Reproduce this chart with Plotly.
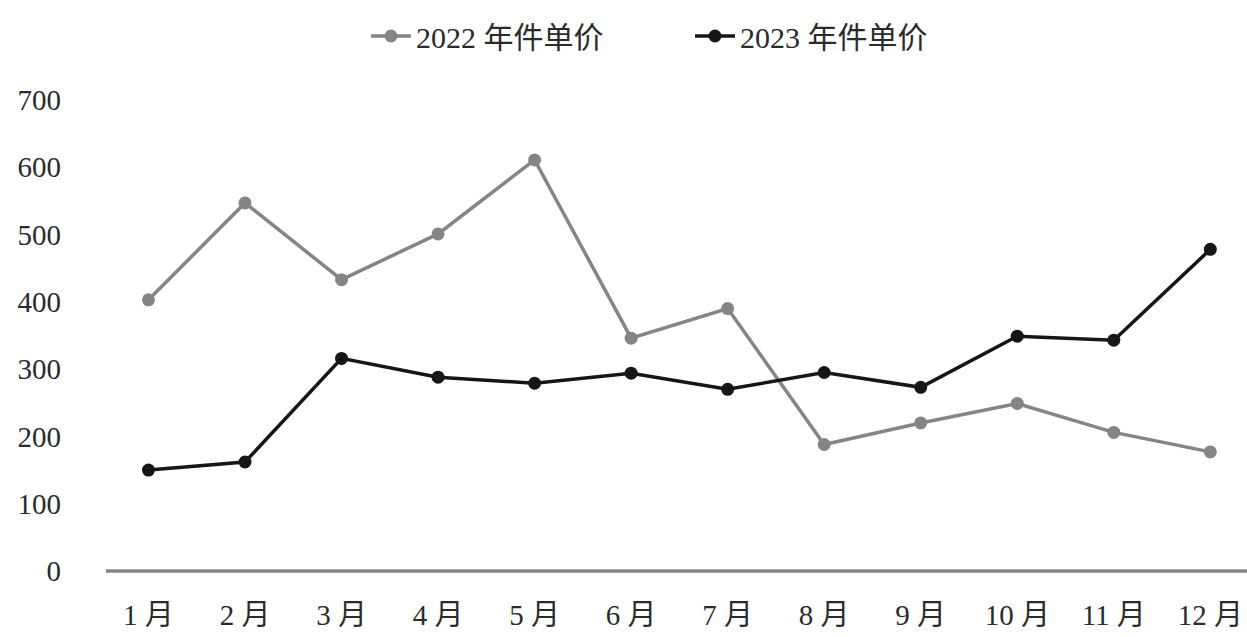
import plotly.graph_objects as go

months = ["1月", "2月", "3月", "4月", "5月", "6月", "7月", "8月", "9月", "10月", "11月", "12月"]
month_labels = ["1 月", "2 月", "3 月", "4 月", "5 月", "6 月", "7 月", "8 月", "9 月", "10 月", "11 月", "12 月"]
price_2022 = [403, 547, 433, 501, 611, 346, 390, 188, 220, 249, 206, 177]
price_2023 = [150, 162, 316, 288, 279, 294, 270, 295, 273, 349, 343, 478]
y_ticks = [0, 100, 200, 300, 400, 500, 600, 700]

FONT = "Liberation Serif, Times New Roman, Noto Sans CJK SC, serif"
TXT = "#2b2b2b"

fig = go.Figure()
fig.add_trace(go.Scatter(
    x=months, y=price_2022, mode="lines+markers", name="2022 年件单价",
    line=dict(color="#858585", width=3.5),
    marker=dict(color="#858585", size=13),
))
fig.add_trace(go.Scatter(
    x=months, y=price_2023, mode="lines+markers", name="2023 年件单价",
    line=dict(color="#161616", width=3.5),
    marker=dict(color="#161616", size=13),
))

fig.update_layout(
    width=1247, height=637,
    margin=dict(l=106, r=0, t=100, b=66),
    paper_bgcolor="white", plot_bgcolor="white",
    font=dict(family=FONT, size=29, color=TXT),
    showlegend=True,
    legend=dict(orientation="h", x=366 / 1247, xref="container", xanchor="left",
                y=1 - 36 / 637, yref="container", yanchor="middle",
                font=dict(family=FONT, size=30, color=TXT),
                itemwidth=40, tracegroupgap=0,
                entrywidth=269, entrywidthmode="pixels"),
    xaxis=dict(type="category", range=[-0.44, 11.38], showgrid=False,
               showline=False, zeroline=False, ticks="", ticklabelstandoff=24,
               automargin=False, tickvals=months, ticktext=month_labels,
               tickfont=dict(family=FONT, size=29, color=TXT)),
    yaxis=dict(range=[0, 700], tickvals=y_ticks, showgrid=False, zeroline=False,
               showline=False, ticks="", ticklabelstandoff=44, automargin=False,
               tickfont=dict(family=FONT, size=29, color=TXT)),
)
fig.add_shape(type="line", xref="paper", yref="paper", x0=0, x1=1, y0=0, y1=0,
              line=dict(color="#858585", width=3.5), layer="below")

fig.write_html("out.html",
               config={"displayModeBar": False},
               post_script="document.body.style.margin='0';document.body.style.overflow='hidden';")
